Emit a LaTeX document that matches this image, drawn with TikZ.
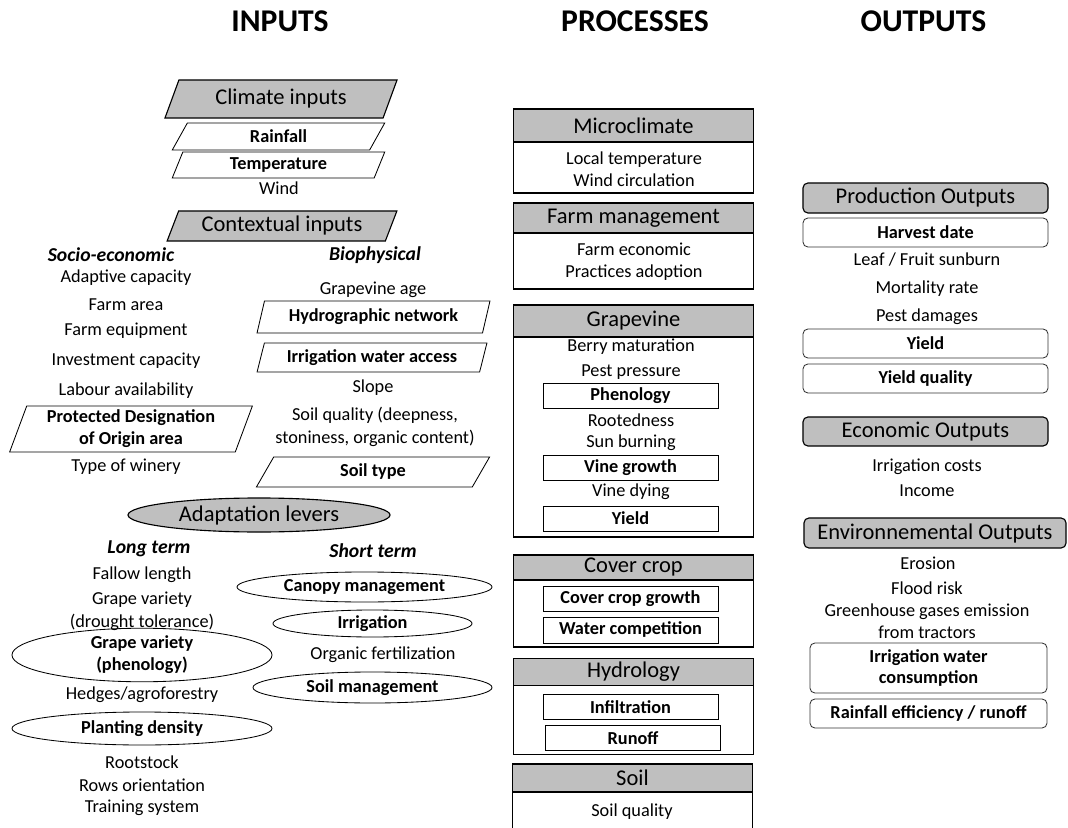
\documentclass[tikz,border=0pt]{standalone}
\usepackage{fontspec}
\setmainfont{Carlito}
\usepackage{tikz}
\usetikzlibrary{shapes.geometric,positioning}
\tikzset{
  txt/.style = {align=center, inner sep=0pt, font=\fontsize{13}{15.6}\selectfont},
  txtb/.style = {txt, font=\fontsize{13}{15.6}\selectfont\bfseries},
  col_h/.style = {inner sep=0pt, font=\fontsize{22.5}{27}\selectfont\bfseries},% column header
  sub_h/.style = {inner sep=0pt, font=\fontsize{14}{17}\selectfont\bfseries\itshape},
  ttl/.style = {align=center, inner sep=0pt, font=\fontsize{16}{19}\selectfont},
  para_g/.style = {ttl, trapezium, trapezium left angle=65, trapezium right angle=115,
    trapezium stretches=true, draw=black, fill=black!25, line width=0.8pt},% input group, grey
  para_w/.style = {txtb, trapezium, trapezium left angle=70, trapezium right angle=110,
    trapezium stretches=true, draw=black, fill=white, line width=0.6pt},% input, bold
  ell_g/.style = {ttl, ellipse, draw=black, fill=black!25, line width=0.8pt},
  ell_w/.style = {txtb, ellipse, draw=black, line width=0.6pt},
  proc_h/.style = {ttl, rectangle, draw=black, fill=black!25, line width=1.3pt,
    outer sep=0pt, minimum width=6cm},% process header
  proc_b/.style = {rectangle, draw=black, line width=1.3pt, outer sep=0pt,
    minimum width=6cm},% process body
  proc_i/.style = {txtb, rectangle, draw=black, line width=0.6pt,
    minimum width=4.375cm, minimum height=0.625cm},
  out_g/.style = {ttl, rectangle, rounded corners=3.5pt, draw=black, fill=black!25,
    line width=0.8pt, minimum width=6.125cm},% output group
  out_w/.style = {txtb, rectangle, rounded corners=3.5pt, draw=black!80,
    line width=0.6pt, minimum width=5.925cm}
}

\begin{document}
\begin{tikzpicture}[x=0.025cm, y=-0.025cm]
  \useasboundingbox (0,0) rectangle (1068,828);

  \node [col_h] (h_in) at (280,21) {INPUTS};
  \node [col_h] (h_proc) at (635,21) {PROCESSES};
  \node [col_h] (h_out) at (923.5,21) {OUTPUTS};

  % inputs
  \node [para_g, minimum width=5.8cm, minimum height=0.95cm] (clim) at (281,99) {Climate inputs};
  \node [para_w, minimum width=5.325cm, minimum height=0.675cm] (rain) at (278.5,136.5) {Rainfall};
  \node [para_w, minimum width=5.325cm, minimum height=0.65cm] (temp) at (278.5,165) {Temperature};
  \node [txt] (wind) at (279,188) {Wind};
  \node [para_g, minimum width=5.75cm, minimum height=0.75cm] (ctx) at (282,226) {Contextual inputs};

  \node [sub_h] (socio) at (111,255) {Socio-economic};
  \node [sub_h] (bio) at (375,255) {Biophysical};
  \foreach \y/\t [count=\i] in {278/Adaptive capacity, 305/Farm area, 331/Farm equipment,
      361/Investment capacity, 391/Labour availability, 467/Type of winery}
    \node [txt] (soc\i) at (126,\y) {\t};
  \node [para_w, minimum width=6.075cm, minimum height=1.15cm] (pdo) at (131,429)
    {Protected Designation\\of Origin area};

  \node [txt] (gage) at (373,290) {Grapevine age};
  \node [para_w, minimum width=5.825cm, minimum height=0.8cm] (hydnet) at (373.5,317) {Hydrographic network};
  \node [para_w, minimum width=5.75cm, minimum height=0.725cm] (iwa) at (372,357.5) {Irrigation water access};
  \node [txt] (slope) at (373,388) {Slope};
  \node [txt] (soilq) at (375,427) {Soil quality (deepness,\\[1pt]stoniness, organic content)};
  \node [para_w, minimum width=5.85cm, minimum height=0.75cm] (stype) at (373,472) {Soil type};

  % adaptation levers
  \node [ell_g, minimum width=6.55cm, minimum height=0.85cm] (adapt) at (259,515) {Adaptation levers};
  \node [sub_h] (lterm) at (149,549) {Long term};
  \node [sub_h] (sterm) at (373,551) {Short term};
  \foreach \y/\t [count=\i] in {575/Fallow length, 600/Grape variety, 622/(drought tolerance),
      695/{Hedges/agroforestry}, 762/Rootstock, 785/Rows orientation, 808/Training system}
    \node [txt] (lt\i) at (142,\y) {\t};
  \node [ell_w, minimum width=6.5cm, minimum height=1cm] (gvph) at (142,655) {Grape variety\\(phenology)};
  \node [ell_w, minimum width=6.5cm, minimum height=0.825cm] (pdens) at (142,728.5) {Planting density};
  \node [ell_w, minimum width=6.375cm, minimum height=0.75cm] (canopy) at (364.5,587) {Canopy management};
  \node [ell_w, minimum width=4.975cm, minimum height=0.675cm] (irr) at (372.5,623.5) {Irrigation};
  \node [txt] (orgf) at (383,655) {Organic fertilization};
  \node [ell_w, minimum width=5.975cm, minimum height=0.775cm] (soilm) at (372.5,687.5) {Soil management};

  % processes
  \node [proc_h, minimum height=0.825cm] (micro) at (633.5,125.5) {Microclimate};
  \node [proc_b, minimum height=1.275cm, below=0pt of micro] (micro_b) {};
  \node [txt] (micro_t) at (634,169) {Local temperature\\Wind circulation};

  \node [proc_h, minimum height=0.75cm] (farm) at (633.5,218) {Farm management};
  \node [proc_b, minimum height=1.4cm, below=0pt of farm] (farm_b) {};
  \node [txt] (farm_t) at (634,262) {Farm economic\\Practices adoption};

  \node [proc_h, minimum height=0.8cm] (vine) at (633.5,321) {Grapevine};
  \node [proc_b, minimum height=5cm, below=0pt of vine] (vine_b) {};
  \foreach \y/\t [count=\i] in {347/Berry maturation, 372/Pest pressure, 420/Rootedness,
      443/Sun burning, 492/Vine dying}
    \node [txt] (vine\i) at (631,\y) {\t};
  \node [proc_i] (pheno) at (630.5,395.5) {Phenology};
  \node [proc_i] (vgrow) at (630.5,467.5) {Vine growth};
  \node [proc_i] (vyield) at (630.5,518.5) {Yield};

  \node [proc_h, minimum height=0.625cm] (cover) at (633.5,567.5) {Cover crop};
  \node [proc_b, minimum height=1.675cm, below=0pt of cover] (cover_b) {};
  \node [proc_i] (ccgrow) at (630.5,598.5) {Cover crop growth};
  \node [proc_i, minimum height=0.65cm] (wcomp) at (630.5,630) {Water competition};

  \node [proc_h, minimum height=0.675cm] (hydro) at (633.5,672) {Hydrology};
  \node [proc_b, minimum height=1.725cm, below=0pt of hydro] (hydro_b) {};
  \node [proc_i] (infil) at (630.5,707) {Infiltration};
  \node [proc_i] (runoff) at (633,738) {Runoff};

  \node [proc_h, minimum height=0.7cm] (soil) at (632.5,778) {Soil};
  \node [proc_b, minimum height=1cm, below=0pt of soil] (soil_b) {};
  \node [txt] (soilqual) at (632,812) {Soil quality};

  % outputs
  \node [out_g, minimum height=0.75cm] (prod) at (925.5,198) {Production Outputs};
  \node [out_w, minimum width=6.125cm, minimum height=0.725cm] (harv) at (925.5,232.5) {Harvest date};
  \foreach \y/\t [count=\i] in {260/{Leaf / Fruit sunburn}, 289/Mortality rate, 317/Pest damages}
    \node [txt] (prod\i) at (927,\y) {\t};
  \node [out_w, minimum width=6.125cm, minimum height=0.725cm] (oyield) at (925.5,343.5) {Yield};
  \node [out_w, minimum width=6.125cm, minimum height=0.725cm] (oyq) at (925.5,378.5) {Yield quality};

  \node [out_g, minimum height=0.725cm] (econ) at (925.5,431.5) {Economic Outputs};
  \node [txt] (econ_t) at (927,478) {Irrigation costs\\[2pt]Income};

  \node [out_g, minimum width=6.55cm, minimum height=0.75cm] (env) at (935,533) {Environnemental Outputs};
  \node [txt] (eros) at (928,563) {Erosion};
  \node [txt] (flood) at (927,588) {Flood risk};
  \node [txt] (ghg) at (927,621) {Greenhouse gases emission\\from tractors};
  \node [out_w, minimum height=1.25cm] (iwc) at (928.5,668) {Irrigation water\\consumption};
  \node [out_w, minimum height=0.725cm] (reff) at (928.5,713.5) {Rainfall efficiency / runoff};
\end{tikzpicture}
\end{document}
